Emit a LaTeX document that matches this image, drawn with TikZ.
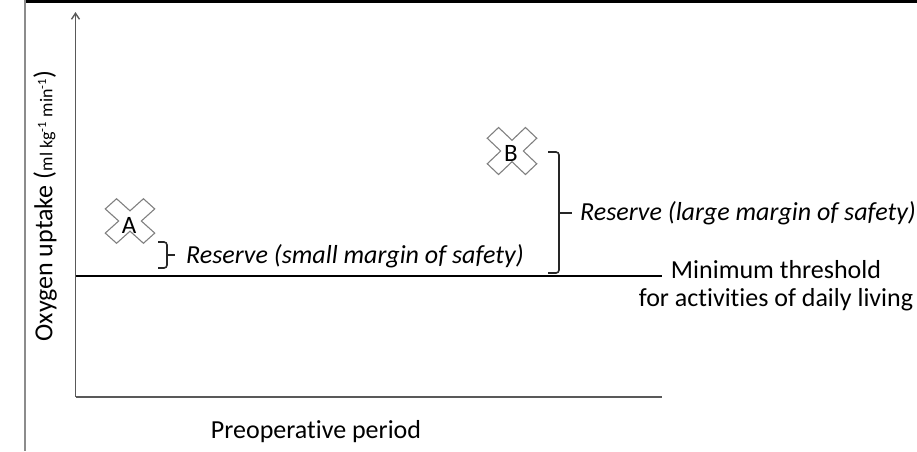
\documentclass[tikz,border=0pt]{standalone}
\usepackage{fontspec}
\setmainfont{Carlito}[Ligatures=NoCommon]
\usetikzlibrary{arrows.meta}
\definecolor{axisline}{HTML}{595959}
\definecolor{crossline}{HTML}{808080}
\definecolor{frameline}{HTML}{8C8C8C}
\tikzset{
  axis/.style    = {draw=axisline, line width=1.4pt},
  thresh/.style  = {draw=black, line width=2.4pt},
  frame/.style   = {draw=frameline, line width=1.2pt},
  lbl/.style     = {font=\fontsize{26}{28}\selectfont, inner sep=0pt},
  rsv/.style     = {font=\fontsize{26}{28}\selectfont\itshape, inner sep=0pt, anchor=west},
  scen/.style    = {font=\fontsize{25}{28}\selectfont, inner sep=0pt},
  bracket/.style = {draw=black!85, line width=1.6pt, rounded corners=3pt},
  xcross/.pic    = {\draw[draw=crossline, line width=1.1pt, rotate=45]
                    (8,27) -- (8,8) -- (27,8) -- (27,-8) -- (8,-8) -- (8,-27) --
                    (-8,-27) -- (-8,-8) -- (-27,-8) -- (-27,8) -- (-8,8) -- (-8,27) -- cycle;},
}
\begin{document}
\begin{tikzpicture}[x=1pt, y=-1pt]
    \useasboundingbox (0,0) rectangle (917,451);
    % page frame
    \draw[black, line width=3pt] (25,1.5) -- (917,1.5);
    \draw[frame] (25,0) -- (25,451);
    % axes
    \coordinate (orig) at (75.5,397);
    \coordinate (ytop) at (75.5,12);
    \coordinate (xend) at (662,397);
    \draw[axis, -{Straight Barb[length=6pt, width=8pt]}] (orig) -- (ytop);
    \draw[axis] (orig) -- (xend);
    \node[lbl, rotate=90] (ylab) at (45,206)
        {Oxygen uptake ({\fontsize{18}{20}\selectfont ml kg\textsuperscript{-1} min\textsuperscript{-1}})};
    \node[lbl] (xlab) at (316,432) {Preoperative period};
    % threshold
    \coordinate (th0) at (75.5,276);
    \coordinate (th1) at (662,276);
    \draw[thresh] (th0) -- (th1);
    \node[lbl, align=center] (thlab) at (776,286) {Minimum threshold\\for activities of daily living};
    % scenarios
    \pic[yscale=0.9] at (130,221) {xcross};
    \node[scen] (A) at (129,225) {A};
    \pic[yscale=0.95] at (512,151) {xcross};
    \node[scen] (B) at (511,153) {B};
    % reserves
    \draw[bracket] (158,242) -- (167,242) -- (167,268) -- (158,268);
    \draw[bracket] (167,255) -- (175,255);
    \node[rsv] (rsmall) at (186,256) {Reserve (small margin of safety)};
    \draw[bracket] (548,152) -- (559,152) -- (559,273) -- (548,273);
    \draw[bracket] (559,213) -- (572,213);
    \node[rsv] (rlarge) at (580,213) {Reserve (large margin of safety)};
\end{tikzpicture}
\end{document}
